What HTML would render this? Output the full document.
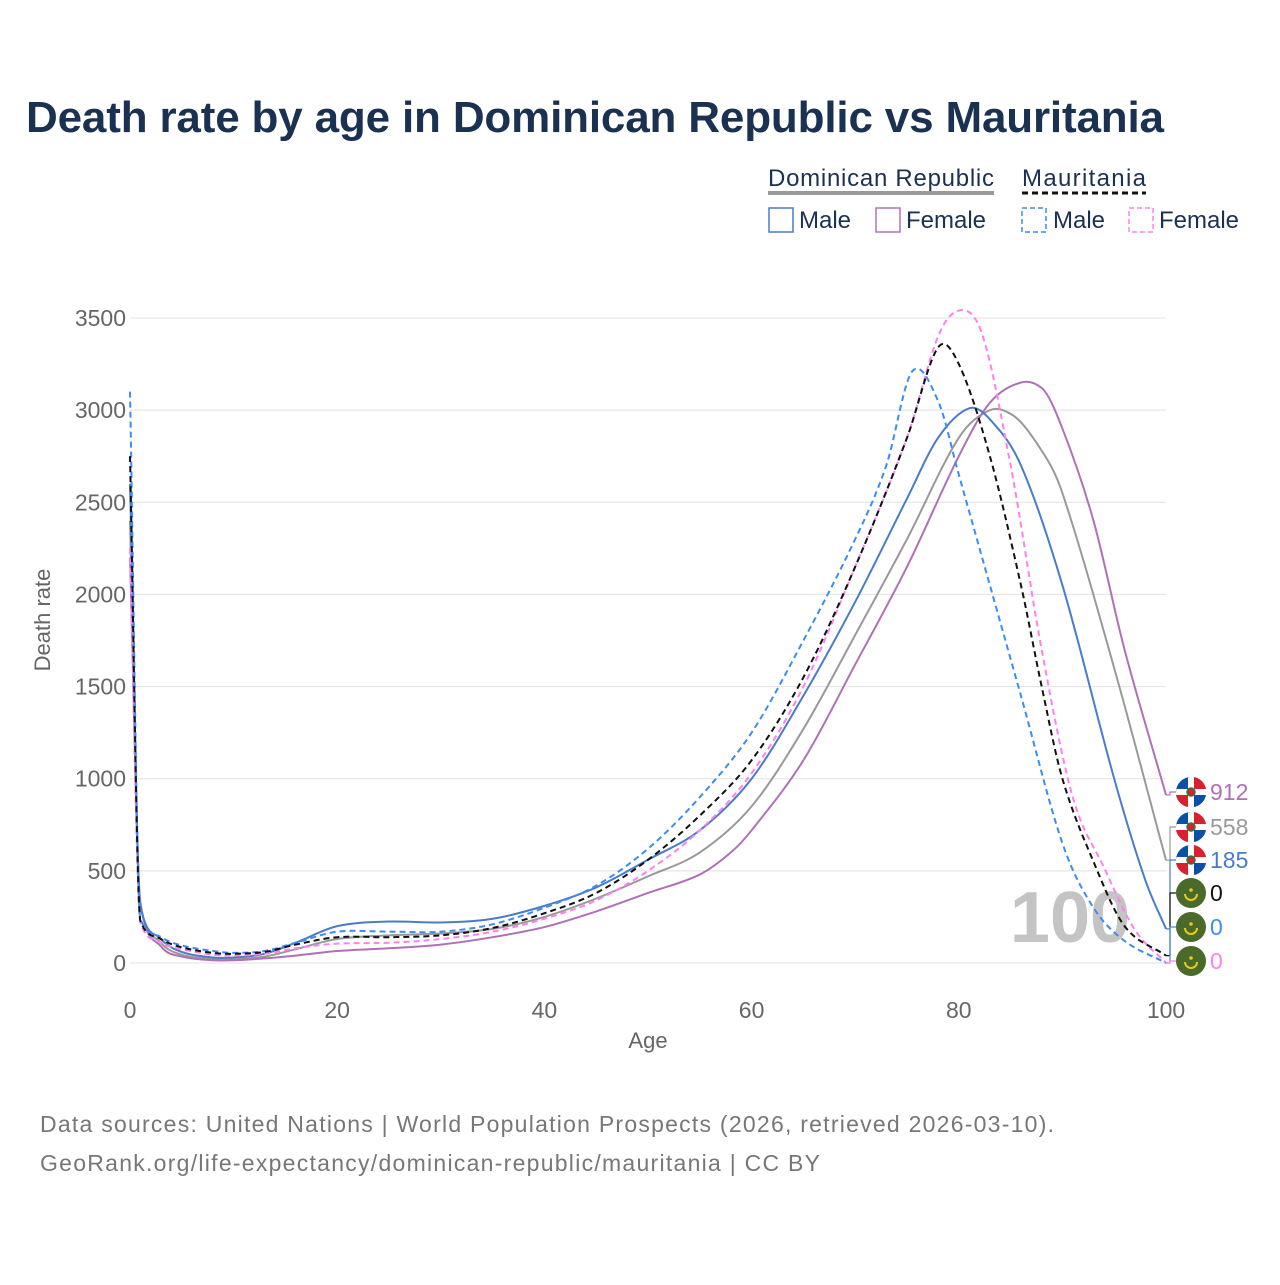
<!DOCTYPE html>
<html><head><meta charset="utf-8"><style>
body{margin:0;background:#fff;font-family:"Liberation Sans",sans-serif}
svg text{font-family:"Liberation Sans",sans-serif}
</style></head><body>
<svg id="chart" width="1280" height="1280" viewBox="0 0 1280 1280">
<text x="26" y="132" font-size="44" font-weight="bold" fill="#1b3152" textLength="1138">Death rate by age in Dominican Republic vs Mauritania</text>
<g>
<text x="768" y="186" font-size="24" fill="#1b3152" textLength="226">Dominican Republic</text>
<line x1="768" y1="193" x2="994" y2="193" stroke="#999" stroke-width="4"/>
<text x="1022" y="186" font-size="24" fill="#1b3152" textLength="124">Mauritania</text>
<line x1="1022" y1="193" x2="1146" y2="193" stroke="#111" stroke-width="3" stroke-dasharray="6,4"/>
<rect x="769" y="208" width="24" height="24" fill="none" stroke="#4a7cc9" stroke-width="1.5"/>
<text x="799" y="228" font-size="24" fill="#1b3152">Male</text>
<rect x="876" y="208" width="24" height="24" fill="none" stroke="#b070b8" stroke-width="1.5"/>
<text x="906" y="228" font-size="24" fill="#1b3152">Female</text>
<rect x="1022" y="208" width="24" height="24" fill="none" stroke="#3b8cf5" stroke-width="1.5" stroke-dasharray="5,3"/>
<text x="1053" y="228" font-size="24" fill="#1b3152">Male</text>
<rect x="1129" y="208" width="24" height="24" fill="none" stroke="#ff80ee" stroke-width="1.5" stroke-dasharray="5,3"/>
<text x="1159" y="228" font-size="24" fill="#1b3152">Female</text>
</g>
<g id="grid"></g>
<text x="1070" y="942" font-size="72" font-weight="bold" fill="#c4c4c4" text-anchor="middle">100</text>
<g id="series"></g>
<g id="labels"></g>
<text x="648" y="1048" font-size="22" fill="#666" text-anchor="middle">Age</text>
<text x="50" y="620" font-size="22" fill="#666" text-anchor="middle" transform="rotate(-90 50 620)">Death rate</text>
<text x="40" y="1132" font-size="23" fill="#777" textLength="1014">Data sources: United Nations | World Population Prospects (2026, retrieved 2026-03-10).</text>
<text x="40" y="1171" font-size="23" fill="#777" textLength="780">GeoRank.org/life-expectancy/dominican-republic/mauritania | CC BY</text>
</svg>
<script>
const yTicks=[0,500,1000,1500,2000,2500,3000,3500];
const xTicks=[0,20,40,60,80,100];
const drMaleAges=[0,1,3,5,8,10,13,16,20,25,30,35,40,45,50,55,60,65,70,75,78,81,83,86,90,95,98,100];
const drMale=[2600,310,130,60,30,30,50,110,200,225,220,240,310,410,560,720,1000,1450,1960,2520,2850,3010,2950,2700,2050,1000,450,185];
const drFemaleAges=[0,1,3,5,8,10,13,16,20,25,30,35,40,45,50,55,58,60,65,70,75,80,83,86,88,90,93,96,100];
const drFemale=[2200,330,90,35,15,15,25,40,65,80,100,140,195,280,380,480,600,720,1100,1620,2150,2750,3040,3150,3120,2900,2400,1700,912];
const drTotalAges=[0,1,3,5,8,10,13,16,20,25,30,35,40,45,50,55,60,65,70,75,80,83,85,88,90,95,100];
const drTotal=[2400,320,110,45,20,20,35,75,130,150,160,185,250,350,470,600,850,1270,1780,2300,2850,3000,2980,2780,2550,1600,558];
const mrMaleAges=[0,1,3,5,8,10,13,16,20,25,30,35,40,45,50,55,60,65,70,73,75.5,78,80,83,86,90,93,96,100];
const mrMale=[3100,240,140,95,65,55,65,110,170,170,170,210,300,420,620,900,1250,1750,2300,2700,3210,3050,2650,2050,1450,650,300,120,0];
const mrTotalAges=[0,1,3,5,8,10,13,16,20,25,30,35,40,45,50,55,60,65,70,75,78,80,83,86,88,90,93,96,100];
const mrTotal=[2750,230,130,85,55,50,60,100,140,140,150,190,270,380,560,800,1100,1550,2150,2850,3340,3250,2750,2050,1500,1000,550,200,40];
const mrFemaleAges=[0,1,3,5,8,10,13,16,20,25,30,35,40,45,50,55,60,65,70,75,78,80,82,85,88,91,94,97,100];
const mrFemale=[2250,220,110,75,45,40,50,80,105,110,130,170,240,340,500,720,1030,1500,2150,2850,3400,3540,3450,2700,1700,900,520,180,0];
const endLabels=["912","558","185","0","0","0"];

const X=a=>130+a*10.36, Y=v=>963-v*0.18429;
const NS="http://www.w3.org/2000/svg";
function mk(tag,attrs,parent){const e=document.createElementNS(NS,tag);for(const k in attrs)e.setAttribute(k,attrs[k]);parent.appendChild(e);return e;}
const grid=document.getElementById('grid');
yTicks.forEach(t=>{
 const l=mk('line',{x1:130,x2:1166,y1:Y(t),y2:Y(t),stroke:'#e6e6e6','stroke-width':1.2},grid);
 
 
 const tx=mk('text',{x:126,y:Y(t)+8,'font-size':23,fill:'#666','text-anchor':'end'},grid);
 tx.textContent=t;
 
 
});
xTicks.forEach(t=>{
 const tx=mk('text',{x:X(t),y:1018,'font-size':23,fill:'#666','text-anchor':'middle'},grid);
 tx.textContent=t;
 
 
});
function path(ages,vals){
 const xs=ages.map(X), ys=vals.map(Y), n=xs.length;
 const d=[],m=new Array(n);
 for(let i=0;i<n-1;i++)d.push((ys[i+1]-ys[i])/(xs[i+1]-xs[i]));
 m[0]=d[0];m[n-1]=d[n-2];
 for(let i=1;i<n-1;i++){
  let c=(ys[i+1]-ys[i-1])/(xs[i+1]-xs[i-1]);
  if(d[i-1]*d[i]>0){const lim=3*Math.min(Math.abs(d[i-1]),Math.abs(d[i]));if(Math.abs(c)>lim)c=Math.sign(c)*lim;}
  m[i]=c;
 }
 let s='M'+xs[0]+','+ys[0];
 for(let i=0;i<n-1;i++){
  const h=(xs[i+1]-xs[i])/3;
  s+=' C'+(xs[i]+h)+','+(ys[i]+m[i]*h)+' '+(xs[i+1]-h)+','+(ys[i+1]-m[i+1]*h)+' '+xs[i+1]+','+ys[i+1];
 }
 return s;
}
const S=document.getElementById('series');
const defs=[
 [drTotalAges,drTotal,'#999','', 'line-dr-total'],
 [drFemaleAges,drFemale,'#b070b8','','line-dr-female'],
 [drMaleAges,drMale,'#4a7cc9','','line-dr-male'],
 [mrFemaleAges,mrFemale,'#ff80ee','6,4','line-mr-female'],
 [mrMaleAges,mrMale,'#3b8cf5','6,4','line-mr-male'],
 [mrTotalAges,mrTotal,'#111','6,4','line-mr-total']
];
defs.forEach(s=>{
 const e=mk('path',{d:path(s[0],s[1]),fill:'none',stroke:s[2],'stroke-width':2,'stroke-dasharray':s[3]},S);
 
 
});
const L=document.getElementById('labels');
const labY=[792,827,860,893,927,961];
const labCol=['#b070b8','#999','#4a7cc9','#111','#3b8cf5','#ff80ee'];
const endVals=[drFemale[drFemale.length-1],drTotal[drTotal.length-1],drMale[drMale.length-1],mrTotal[mrTotal.length-1],mrMale[mrMale.length-1],mrFemale[mrFemale.length-1]];
labY.forEach((y,i)=>{
 const cx=1191;
 mk('polyline',{points:`1166,${Y(endVals[i])} 1170,${Y(endVals[i])} 1170,${y} 1176,${y}`,fill:'none',stroke:labCol[i],'stroke-width':1.2},L);
 const g=mk('g',{},L);
 
 
 if(i<3){
  mk('circle',{cx,cy:y,r:15,fill:'#fff'},g);
  mk('path',{d:`M${cx-15},${y} A15,15 0 0 1 ${cx},${y-15} L${cx-3},${y-15} L${cx-3},${y-3} L${cx-15},${y-3}Z`,fill:'#0a4fa8'},g);
  mk('path',{d:`M${cx+3},${y-15} A15,15 0 0 1 ${cx+15},${y-3} L${cx+3},${y-3}Z`,fill:'#d8202f'},g);
  mk('path',{d:`M${cx-15},${y+3} L${cx-3},${y+3} L${cx-3},${y+15} A15,15 0 0 1 ${cx-15},${y+3}Z`,fill:'#d8202f'},g);
  mk('path',{d:`M${cx+3},${y+3} L${cx+15},${y+3} A15,15 0 0 1 ${cx+3},${y+15}Z`,fill:'#0a4fa8'},g);
  mk('circle',{cx,cy:y,r:4,fill:'#d8202f',stroke:'#2a7a3a','stroke-width':1.5},g);
 }else{
  mk('circle',{cx,cy:y,r:15,fill:'#4a6a2a'},g);
  mk('path',{d:`M${cx-6},${y+1} A6,6 0 0 0 ${cx+6},${y+1}`,fill:'none',stroke:'#e8c81e','stroke-width':2},g);
  mk('circle',{cx,cy:y-3,r:1.8,fill:'#e8c81e'},g);
 }
 const t=mk('text',{x:1210,y:y+8,'font-size':23,fill:labCol[i]},L);
 t.textContent=endLabels[i];
 
 
});
</script>
</body></html>
